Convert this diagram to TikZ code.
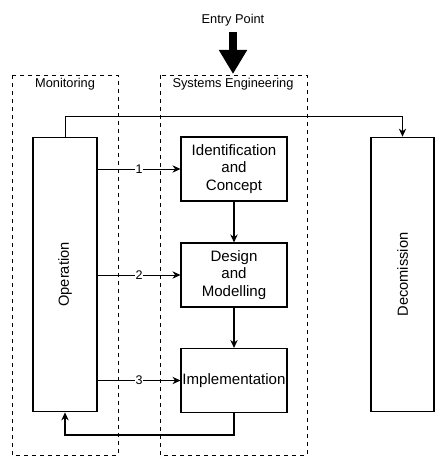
\documentclass[tikz,border=0pt]{standalone}
\usepackage{fontspec}
\setmainfont{Liberation Sans}
\usetikzlibrary{arrows.meta}
\tikzset{
  groupbox/.style={draw, dashed, line width=0.6pt},
  grouplabel/.style={font=\fontsize{9.6}{11}\selectfont, inner sep=1pt},
  phase/.style={draw, line width=0.8pt, minimum width=79.5pt, minimum height=48pt,
    inner sep=0.5pt, align=center, font=\fontsize{11.3}{13.3}\selectfont},
  lifebox/.style={draw, line width=0.8pt, minimum width=48pt, minimum height=206pt},
  lifetext/.style={rotate=90, font=\fontsize{11}{13}\selectfont},
  flow/.style={line width=1.1pt, -{Stealth[length=6pt,width=5.5pt]}},
  link/.style={line width=0.6pt, -{Stealth[length=6pt,width=5.5pt]}},
  num/.style={fill=white, inner sep=0.5pt, font=\fontsize{9.4}{11}\selectfont},
  entryarrow/.style={line width=5.5pt, -{Triangle[length=18pt,width=20pt]}}
}
\begin{document}
\begin{tikzpicture}[x=0.75pt,y=-0.75pt]
  \useasboundingbox (0,0) rectangle (442,470);
  % groups
  \draw[groupbox] (12,75) rectangle (118,455);
  \draw[groupbox] (160,75) rectangle (307,455);
  \node[grouplabel] (monlbl) at (65,84) {Monitoring};
  \node[grouplabel] (selbl) at (233,84) {Systems Engineering};
  % entry point
  \node[grouplabel] (entry) at (233,20) {Entry Point};
  \coordinate (entrytop) at (233,32);
  \coordinate (entrytip) at (233,74);
  \draw[entryarrow] (entrytop) -- (entrytip);
  % life cycle boxes
  \node[lifebox] (oper) at (65,274.5) {};
  \node[lifetext] (opertext) at (oper.center) {Operation};
  \node[lifebox, minimum width=47.25pt] (decom) at (402.5,274.5) {};
  \node[lifetext] (decomtext) at (decom.center) {Decomission};
  % engineering phases
  \node[phase] (ident) at (234,169) {Identification\\and\\Concept};
  \node[phase] (design) at (234,275) {Design\\and\\Modelling};
  \node[phase] (impl) at (234,380.5) {Implementation};
  % connectors
  \draw[flow] (ident) -- (design);
  \draw[flow] (design) -- (impl);
  \draw[link] (oper.north) -- ++(0,-20) -| (decom.north);
  \draw[link] (oper.east |- ident) -- node[num] {1} (ident);
  \draw[link] (oper.east |- design) -- node[num] {2} (design);
  \draw[link] (oper.east |- impl) -- node[num] {3} (impl);
  \draw[flow] (impl.south) -- ++(0,22) -| (oper.south);
\end{tikzpicture}
\end{document}
